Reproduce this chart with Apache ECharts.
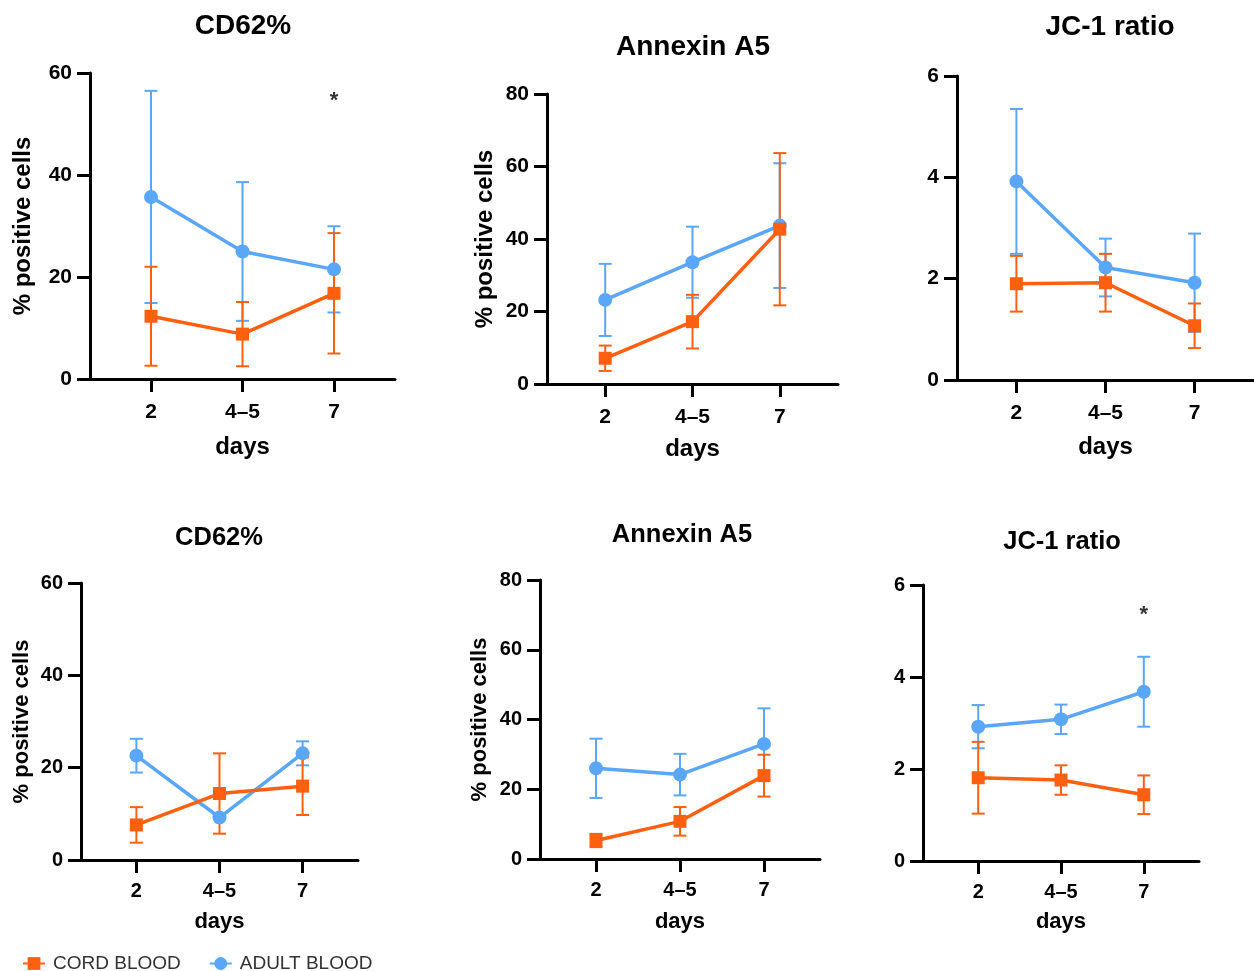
<!DOCTYPE html>
<html><head><meta charset="utf-8">
<script src="https://cdn.jsdelivr.net/npm/echarts@6/dist/echarts.min.js"></script>
<style>html,body{margin:0;padding:0;background:#fff}#c{width:1254px;height:971px}</style>
</head><body><div id="c"></div>
<script>
// ---- data ----
const categories = ['2', '4–5', '7'];
const panelTitles = ['CD62%', 'Annexin A5', 'JC-1 ratio', 'CD62%', 'Annexin A5', 'JC-1 ratio'];
const yAxisNames = ['% positive cells', '% positive cells', '', '% positive cells', '% positive cells', ''];
const xAxisName = 'days';
const yMax = [60, 80, 6, 60, 80, 6];
const yStep = [20, 20, 2, 20, 20, 2];
const seriesNames = ['CORD BLOOD', 'ADULT BLOOD'];

const cordMean = [
  [12.3, 8.8, 16.8],
  [7.1, 17.2, 42.7],
  [1.90, 1.92, 1.07],
  [7.6, 14.4, 16.0],
  [5.3, 10.8, 23.9],
  [1.81, 1.76, 1.44]
];
const cordSD = [
  [9.7, 6.3, 11.8],
  [3.5, 7.4, 21.0],
  [0.55, 0.57, 0.44],
  [3.85, 8.7, 6.25],
  [1.9, 4.1, 6.0],
  [0.78, 0.32, 0.42]
];
const adultMean = [
  [35.7, 25.0, 21.5],
  [23.2, 33.6, 43.7],
  [3.92, 2.22, 1.92],
  [22.6, 9.2, 23.1],
  [26.0, 24.2, 33.0],
  [2.92, 3.08, 3.68]
];
const adultSD = [
  [20.8, 13.6, 8.45],
  [9.95, 9.8, 17.2],
  [1.43, 0.57, 0.97],
  [3.65, 0, 2.6],
  [8.5, 5.95, 10.2],
  [0.47, 0.32, 0.76]
];
// significance marks: panel index, category index, y value
const starPanel = [0, 5];
const starCat = [2, 2];
const starY = [54.5, 5.35];

// ---- layout / style ----
const ORANGE = '#FF6010';
const BLUE = '#5AA6F8';
const FONT = '"Liberation Sans", Arial, Helvetica, sans-serif';
const layout = [
  {left: 90,  top: 73,  width: 305, height: 306, tx: 243,  ty: 26,  tf: 28, lf: 21, nf: 24, yGap: 55, xGap: 56, lm: 23},
  {left: 547, top: 94,  width: 291, height: 290, tx: 693,  ty: 47,  tf: 28, lf: 21, nf: 24, yGap: 50, xGap: 53, lm: 23},
  {left: 957, top: 76,  width: 304, height: 304, tx: 1110, ty: 27,  tf: 28, lf: 21, nf: 24, yGap: 50, xGap: 55, lm: 23},
  {left: 81,  top: 583, width: 277, height: 277, tx: 219,  ty: 538, tf: 25.5, lf: 20, nf: 22, yGap: 48, xGap: 51, lm: 21},
  {left: 540, top: 580, width: 280, height: 279, tx: 682,  ty: 535, tf: 25.5, lf: 20, nf: 22, yGap: 49, xGap: 52, lm: 21},
  {left: 923, top: 585, width: 276, height: 276, tx: 1062, ty: 542, tf: 25.5, lf: 20, nf: 22, yGap: 48, xGap: 50, lm: 21}
];

const catPos = categories.map((_, j) => j + 1);

function errRender(color) {
  return function (params, api) {
    const x = api.value(0), lo = api.value(1), hi = api.value(2);
    const a = api.coord([x, lo]), b = api.coord([x, hi]);
    const w = 6.5;
    const st = {stroke: color, lineWidth: 2, fill: null};
    return {
      type: 'group',
      children: [
        {type: 'line', shape: {x1: a[0], y1: a[1], x2: b[0], y2: b[1]}, style: st},
        {type: 'line', shape: {x1: a[0] - w, y1: a[1], x2: a[0] + w, y2: a[1]}, style: st},
        {type: 'line', shape: {x1: b[0] - w, y1: b[1], x2: b[0] + w, y2: b[1]}, style: st}
      ]
    };
  };
}

const grid = [], xAxis = [], yAxis = [], series = [], graphic = [];
layout.forEach((L, i) => {
  grid.push({left: L.left, top: L.top, width: L.width, height: L.height, containLabel: false});
  xAxis.push({
    type: 'value', gridIndex: i, min: 1 / 3, max: 11 / 3,
    name: xAxisName, nameLocation: 'middle', nameGap: L.xGap,
    nameTextStyle: {fontFamily: FONT, fontWeight: 'bold', fontSize: L.nf, color: '#000'},
    axisLine: {show: true, onZero: false, lineStyle: {color: '#000', width: 3}},
    axisTick: {show: true, length: 13, lineStyle: {color: '#000', width: 3}, customValues: catPos},
    axisLabel: {customValues: catPos, margin: L.lm, fontFamily: FONT, fontWeight: 'bold', fontSize: L.lf, color: '#000',
      formatter: v => categories[Math.round(v) - 1] || ''},
    splitLine: {show: false}
  });
  yAxis.push({
    type: 'value', gridIndex: i, min: 0, max: yMax[i], interval: yStep[i],
    name: yAxisNames[i], nameLocation: 'middle', nameGap: L.yGap,
    nameTextStyle: {fontFamily: FONT, fontWeight: 'bold', fontSize: L.nf, color: '#000'},
    axisLine: {show: true, lineStyle: {color: '#000', width: 3}},
    axisTick: {show: true, length: 13, lineStyle: {color: '#000', width: 3}},
    axisLabel: {margin: 18, fontFamily: FONT, fontWeight: 'bold', fontSize: L.lf, color: '#000'},
    splitLine: {show: false}
  });
  graphic.push({type: 'text', x: L.tx, y: L.ty, silent: true,
    style: {text: panelTitles[i], fill: '#000', font: 'bold ' + L.tf + 'px ' + FONT, textAlign: 'center', textVerticalAlign: 'middle'}});

  const groups = [
    {name: seriesNames[1], mean: adultMean[i], sd: adultSD[i], color: BLUE, symbol: 'circle', size: 14},
    {name: seriesNames[0], mean: cordMean[i], sd: cordSD[i], color: ORANGE, symbol: 'rect', size: 13}
  ];
  groups.forEach(g => {
    series.push({
      type: 'custom', name: g.name + ' SD', xAxisIndex: i, yAxisIndex: i, clip: false,
      renderItem: errRender(g.color), encode: {x: 0, y: [1, 2]},
      data: g.mean.map((m, j) => [catPos[j], m - g.sd[j], m + g.sd[j]]),
      silent: true
    });
    series.push({
      type: 'line', name: g.name, xAxisIndex: i, yAxisIndex: i,
      data: g.mean.map((m, j) => [catPos[j], m]),
      symbol: g.symbol, symbolSize: g.size, showSymbol: true,
      itemStyle: {color: g.color}, lineStyle: {color: g.color, width: 3.5}
    });
  });
});
starPanel.forEach((p, k) => {
  series.push({
    type: 'scatter', name: 'sig' + k, xAxisIndex: p, yAxisIndex: p, symbolSize: 1,
    itemStyle: {color: 'rgba(0,0,0,0)'},
    label: {show: true, position: 'inside', formatter: '*', fontFamily: FONT, fontWeight: 'bold', fontSize: 22, color: '#000'},
    data: [[catPos[starCat[k]], starY[k]]]
  });
});

const chart = echarts.init(document.getElementById('c'));
chart.setOption({
  animation: false,
  backgroundColor: '#fff',
  grid, xAxis, yAxis, series, graphic,
  legend: {
    data: [seriesNames[0], seriesNames[1]], left: 22, top: 954, padding: 0,
    itemWidth: 22, itemHeight: 16, itemGap: 28,
    textStyle: {fontFamily: FONT, fontSize: 19, color: '#333', padding: [0, 0, 0, 3]}
  }
});
</script></body></html>
